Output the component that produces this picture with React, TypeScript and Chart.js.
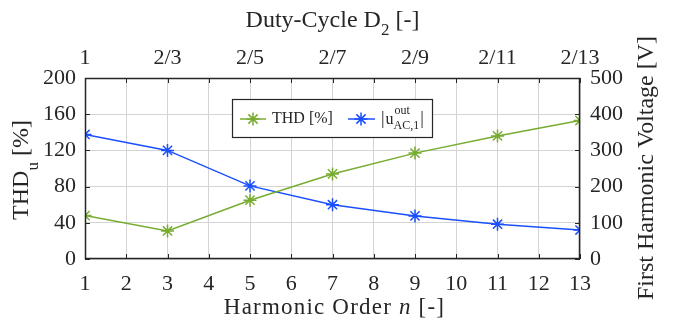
import React, { useEffect, useRef } from "react";
import { Chart, registerables } from "chart.js";
Chart.register(...registerables);

const harmonicOrders = [1, 3, 5, 7, 9, 11, 13];
const thdValues = [48, 31, 65, 94, 117, 136, 153];
const voltageValues = [344, 300, 202, 150, 119, 96, 80];
const dutyCycleLabels = ["1", "2/3", "2/5", "2/7", "2/9", "2/11", "2/13"];
const seriesNames = ["THD [%]", "|u_AC,1^out|"];

const GREEN = "#77AC30";
const BLUE = "#1A4FFF";
const SERIF = '"Liberation Serif", "Times New Roman", serif';
const AXIS = "#262626";

type Part = { t: string; s: number; dy?: number; italic?: boolean };

function setFont(ctx: CanvasRenderingContext2D, p: Part) {
  ctx.font = `${p.italic ? "italic " : ""}${p.s}px ${SERIF}`;
}

function partsWidth(ctx: CanvasRenderingContext2D, parts: Part[]) {
  let w = 0;
  for (const p of parts) {
    setFont(ctx, p);
    w += ctx.measureText(p.t).width;
  }
  return w;
}

function drawParts(ctx: CanvasRenderingContext2D, parts: Part[], x: number, y: number, center: boolean, spacing = 0) {
  (ctx as any).letterSpacing = `${spacing}px`;
  let cx = center ? x - partsWidth(ctx, parts) / 2 : x;
  ctx.textAlign = "left";
  ctx.textBaseline = "middle";
  for (const p of parts) {
    setFont(ctx, p);
    ctx.fillText(p.t, cx, y + (p.dy || 0));
    cx += ctx.measureText(p.t).width;
  }
  (ctx as any).letterSpacing = "0px";
}

function drawStar(ctx: CanvasRenderingContext2D, x: number, y: number, r: number, color: string) {
  ctx.save();
  ctx.strokeStyle = color;
  ctx.lineWidth = 1.5;
  ctx.beginPath();
  for (let i = 0; i < 4; i++) {
    const a = (i * Math.PI) / 4;
    ctx.moveTo(x - r * Math.cos(a), y - r * Math.sin(a));
    ctx.lineTo(x + r * Math.cos(a), y + r * Math.sin(a));
  }
  ctx.stroke();
  ctx.restore();
}

const decorPlugin = {
  id: "decor",
  afterDatasetsDraw(chart: any) {
    const ctx: CanvasRenderingContext2D = chart.ctx;
    const ca = chart.chartArea;
    const sx = chart.scales.x;
    const sy = chart.scales.y;
    const sy2 = chart.scales.y2;
    ctx.save();
    ctx.fillStyle = AXIS;
    // Top title
    drawParts(ctx, [{ t: "Duty-Cycle D", s: 24 }, { t: "2", s: 17, dy: 10 }, { t: " [-]", s: 24 }], (ca.left + ca.right) / 2, 21, true);
    // Bottom title
    drawParts(ctx, [{ t: "Harmonic Order ", s: 23 }, { t: "n", s: 23, italic: true }, { t: " [-]", s: 23 }], (ca.left + ca.right) / 2 + 2, 308, true, 1.2);
    // Left title
    ctx.save();
    ctx.translate(22, 170);
    ctx.rotate(-Math.PI / 2);
    drawParts(ctx, [{ t: "THD", s: 24 }, { t: "u", s: 17, dy: 12 }, { t: " [%]", s: 24 }], 0, 0, true);
    ctx.restore();
    // Right title
    ctx.save();
    ctx.translate(647, 168);
    ctx.rotate(-Math.PI / 2);
    drawParts(ctx, [{ t: "First Harmonic Voltage [V]", s: 24 }], 0, 0, true);
    ctx.restore();

    // Frame
    ctx.strokeStyle = AXIS;
    ctx.lineWidth = 1.5;
    ctx.strokeRect(ca.left + 0.5, ca.top + 0.5, ca.right - ca.left - 1, ca.bottom - ca.top - 1);

    // Inward tick marks
    const tl = 5;
    ctx.lineWidth = 1;
    ctx.beginPath();
    for (let v = 1; v <= 13; v++) {
      const px = Math.round(sx.getPixelForValue(v)) + 0.5;
      ctx.moveTo(px, ca.bottom);
      ctx.lineTo(px, ca.bottom - tl);
      ctx.moveTo(px, ca.top);
      ctx.lineTo(px, ca.top + tl);
    }
    for (let v = 0; v <= 200; v += 40) {
      const py = Math.round(sy.getPixelForValue(v)) + 0.5;
      ctx.moveTo(ca.left, py);
      ctx.lineTo(ca.left + tl, py);
    }
    for (let v = 0; v <= 500; v += 100) {
      const py = Math.round(sy2.getPixelForValue(v)) + 0.5;
      ctx.moveTo(ca.right, py);
      ctx.lineTo(ca.right - tl, py);
    }
    ctx.stroke();

    // Legend
    const lx = 232, ly = 99, lw = 200, lh = 38;
    ctx.fillStyle = "#ffffff";
    ctx.fillRect(lx, ly, lw, lh);
    ctx.strokeStyle = AXIS;
    ctx.lineWidth = 1.2;
    ctx.strokeRect(lx + 0.5, ly + 0.5, lw, lh);
    const my = ly + 20;
    ctx.lineWidth = 1.5;
    ctx.strokeStyle = GREEN;
    ctx.beginPath();
    ctx.moveTo(240, my);
    ctx.lineTo(266, my);
    ctx.stroke();
    drawStar(ctx, 253, my, 6.5, GREEN);
    ctx.fillStyle = AXIS;
    drawParts(ctx, [{ t: seriesNames[0], s: 16 }], 272, my, false);
    ctx.strokeStyle = BLUE;
    ctx.beginPath();
    ctx.moveTo(348, my);
    ctx.lineTo(375, my);
    ctx.stroke();
    drawStar(ctx, 361, my, 6.5, BLUE);
    ctx.fillStyle = AXIS;
    let x = 381;
    ctx.textAlign = "left";
    ctx.textBaseline = "middle";
    ctx.font = `18px ${SERIF}`;
    ctx.fillText("|", x, my);
    x += ctx.measureText("|").width + 1;
    ctx.font = `16px ${SERIF}`;
    ctx.fillText("u", x, my + 1);
    x += ctx.measureText("u").width;
    ctx.font = `12px ${SERIF}`;
    ctx.fillText("out", x + 1, my - 8);
    ctx.fillText("AC,1", x, my + 7);
    const w = Math.max(ctx.measureText("out").width, ctx.measureText("AC,1").width);
    x += w + 1;
    ctx.font = `18px ${SERIF}`;
    ctx.fillText("|", x, my);
    ctx.restore();
  },
};

export default function App() {
  const ref = useRef<HTMLCanvasElement>(null);
  useEffect(() => {
    if (!ref.current) return;
    const chart = new Chart(ref.current, {
      type: "line",
      data: {
        datasets: [
          {
            label: seriesNames[0],
            data: harmonicOrders.map((n, i) => ({ x: n, y: thdValues[i] })),
            borderColor: GREEN,
            backgroundColor: GREEN,
            borderWidth: 1.5,
            pointStyle: "star",
            pointRadius: 6.5,
            pointBorderWidth: 1.5,
            pointBorderColor: GREEN,
            xAxisID: "x",
            yAxisID: "y",
          },
          {
            label: seriesNames[1],
            data: harmonicOrders.map((n, i) => ({ x: n, y: voltageValues[i] })),
            borderColor: BLUE,
            backgroundColor: BLUE,
            borderWidth: 1.5,
            pointStyle: "star",
            pointRadius: 6.5,
            pointBorderWidth: 1.5,
            pointBorderColor: BLUE,
            xAxisID: "x",
            yAxisID: "y2",
          },
        ],
      },
      options: {
        responsive: false,
        animation: false,
        layout: { padding: 0 },
        plugins: { legend: { display: false }, tooltip: { enabled: false } },
        scales: {
          x: {
            type: "linear",
            position: "bottom",
            min: 1,
            max: 13,
            afterFit: (s: any) => { s.height = 66; },
            ticks: { stepSize: 1, color: AXIS, font: { family: SERIF, size: 22 }, padding: 12, maxRotation: 0, autoSkip: false },
            grid: { color: "#d4d4d4", lineWidth: 1, drawTicks: false },
            border: { display: false },
          },
          x2: {
            type: "linear",
            position: "top",
            min: 1,
            max: 13,
            afterFit: (s: any) => { s.height = 78; },
            ticks: {
              stepSize: 2,
              color: AXIS,
              font: { family: SERIF, size: 22 },
              padding: 7,
              maxRotation: 0,
              autoSkip: false,
              callback: (v: any) => dutyCycleLabels[Math.round((Number(v) - 1) / 2)] ?? "",
            },
            grid: { display: false, drawTicks: false },
            border: { display: false },
          },
          y: {
            type: "linear",
            position: "left",
            min: 0,
            max: 200,
            afterFit: (s: any) => { s.width = 85; },
            ticks: { stepSize: 40, color: AXIS, font: { family: SERIF, size: 22 }, padding: 9 },
            grid: { color: "#d4d4d4", lineWidth: 1, drawTicks: false },
            border: { display: false },
          },
          y2: {
            type: "linear",
            position: "right",
            min: 0,
            max: 500,
            afterFit: (s: any) => { s.width = 101; },
            ticks: { stepSize: 100, color: AXIS, font: { family: SERIF, size: 22 }, padding: 10 },
            grid: { display: false, drawTicks: false },
            border: { display: false },
          },
        },
      },
      plugins: [decorPlugin],
    } as any);
    return () => chart.destroy();
  }, []);
  return (
    <div style={{ position: "fixed", left: 0, top: 0, width: 681, height: 325, background: "#fff" }}>
      <canvas ref={ref} width={681} height={325} />
    </div>
  );
}
